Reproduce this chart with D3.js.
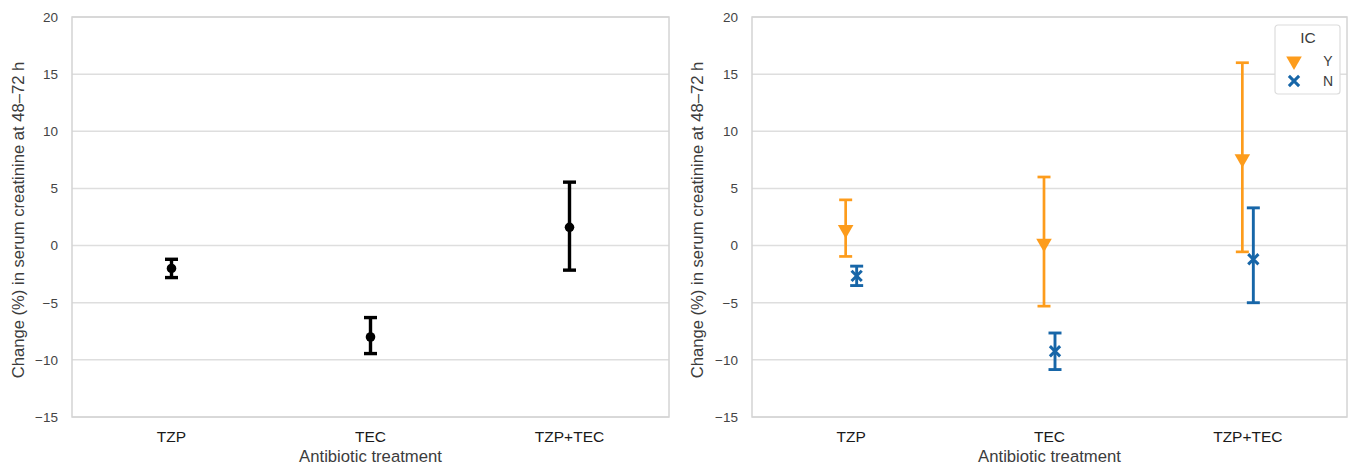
<!DOCTYPE html>
<html>
<head>
<meta charset="utf-8">
<script src="https://cdn.jsdelivr.net/npm/d3@7"></script>
<style>
  body { margin: 0; background: #fff; }
  svg { font-family: "Liberation Sans", Arial, sans-serif; }
</style>
</head>
<body>
<script>
const categories = ["TZP", "TEC", "TZP+TEC"];
const yTicks = [-15, -10, -5, 0, 5, 10, 15, 20];

// left panel: all patients
const allMean = [-2.0, -8.0, 1.6];
const allLow = [-2.8, -9.45, -2.15];
const allHigh = [-1.2, -6.3, 5.55];

// right panel: split by IC
const icGroups = ["Y", "N"];
const icYMean = [1.4, 0.2, 7.6];
const icYLow = [-0.95, -5.3, -0.55];
const icYHigh = [4.0, 6.0, 16.0];
const icNMean = [-2.65, -9.25, -1.2];
const icNLow = [-3.5, -10.85, -5.0];
const icNHigh = [-1.8, -7.65, 3.3];

const width = 1354;
const height = 468;
const orange = "#fd9c1c";
const blue = "#1766a8";
const textColor = "#3c3c3c";

const svg = d3.select("body").append("svg")
    .attr("width", width)
    .attr("height", height);

const plotTop = 17, plotBottom = 417;
const y = d3.scaleLinear().domain([-15, 20]).range([plotBottom, plotTop]);

function drawPanel(left, right, labelX) {
    const g = svg.append("g");
    const x = d3.scaleBand().domain(categories).range([left, right]);

    // grid
    g.selectAll(".grid")
        .data(yTicks)
        .enter()
        .append("line")
        .attr("x1", left)
        .attr("x2", right)
        .attr("y1", d => y(d))
        .attr("y2", d => y(d))
        .style("stroke", "#dedede")
        .style("stroke-width", 1.5);

    g.append("rect")
        .attr("x", left)
        .attr("y", plotTop)
        .attr("width", right - left)
        .attr("height", plotBottom - plotTop)
        .style("fill", "none")
        .style("stroke", "#d4d4d4")
        .style("stroke-width", 1.5);

    // y axis labels
    const yAxis = d3.axisLeft(y).tickValues(yTicks).tickSize(0).tickPadding(14)
        .tickFormat(d => d < 0 ? "\u2212" + Math.abs(d) : d);
    g.append("g")
        .attr("transform", `translate(${left},0)`)
        .call(yAxis)
        .call(a => a.select(".domain").remove())
        .selectAll("text")
        .style("font-size", "13.5px")
        .style("fill", "#444")
        .style("font-family", "Liberation Sans, Arial, sans-serif");

    // x axis labels
    const xAxis = d3.axisBottom(x).tickSize(0).tickPadding(14);
    g.append("g")
        .attr("transform", `translate(0,${plotBottom})`)
        .call(xAxis)
        .call(a => a.select(".domain").remove())
        .selectAll("text")
        .style("font-size", "15.5px")
        .style("fill", "#1a1a1a")
        .style("font-family", "Liberation Sans, Arial, sans-serif");

    g.append("text")
        .attr("x", (left + right) / 2)
        .attr("y", 462)
        .attr("text-anchor", "middle")
        .style("font-size", "16.7px")
        .style("fill", textColor)
        .text("Antibiotic treatment");

    g.append("text")
        .attr("transform", `translate(${labelX},220) rotate(-90)`)
        .attr("text-anchor", "middle")
        .style("font-size", "16.6px")
        .style("fill", textColor)
        .text("Change (%) in serum creatinine at 48\u201372 h");

    return { g, x };
}

function errorBars(g, rows, color, lw, capW) {
    const bars = g.selectAll(null).data(rows).enter().append("g");
    bars.append("line")
        .attr("x1", d => d.cx).attr("x2", d => d.cx)
        .attr("y1", d => y(d.low)).attr("y2", d => y(d.high))
        .style("stroke", color).style("stroke-width", lw);
    bars.append("line")
        .attr("x1", d => d.cx - capW / 2).attr("x2", d => d.cx + capW / 2)
        .attr("y1", d => y(d.low)).attr("y2", d => y(d.low))
        .style("stroke", color).style("stroke-width", lw);
    bars.append("line")
        .attr("x1", d => d.cx - capW / 2).attr("x2", d => d.cx + capW / 2)
        .attr("y1", d => y(d.high)).attr("y2", d => y(d.high))
        .style("stroke", color).style("stroke-width", lw);
    return bars;
}

// left panel
const p1 = drawPanel(72, 669, 24);
const rowsAll = categories.map((c, i) => ({
    cx: p1.x(c) + p1.x.bandwidth() / 2, mean: allMean[i], low: allLow[i], high: allHigh[i]
}));
errorBars(p1.g, rowsAll, "#000", 3.4, 13);
p1.g.selectAll(null).data(rowsAll).enter().append("circle")
    .attr("cx", d => d.cx).attr("cy", d => y(d.mean)).attr("r", 4.8)
    .style("fill", "#000");

// right panel
const p2 = drawPanel(752, 1347, 703);
const dodge = d3.scalePoint().domain(icGroups).range([-5.5, 5.5]);
const rowsY = categories.map((c, i) => ({
    cx: p2.x(c) + p2.x.bandwidth() / 2 + dodge("Y"), mean: icYMean[i], low: icYLow[i], high: icYHigh[i]
}));
const rowsN = categories.map((c, i) => ({
    cx: p2.x(c) + p2.x.bandwidth() / 2 + dodge("N"), mean: icNMean[i], low: icNLow[i], high: icNHigh[i]
}));

const tri = d3.symbol(d3.symbolTriangle, 105);
const cross = d3.symbol(d3.symbolX, 70);

errorBars(p2.g, rowsY, orange, 2.7, 13);
p2.g.selectAll(null).data(rowsY).enter().append("path")
    .attr("d", tri)
    .attr("transform", d => `translate(${d.cx},${y(d.mean)}) rotate(180)`)
    .style("fill", orange);

errorBars(p2.g, rowsN, blue, 2.9, 13);
p2.g.selectAll(null).data(rowsN).enter().append("path")
    .attr("d", cross)
    .attr("transform", d => `translate(${d.cx},${y(d.mean)})`)
    .style("fill", "none")
    .style("stroke", blue)
    .style("stroke-width", 3);

// legend
const leg = svg.append("g").attr("transform", "translate(1275,25)");
leg.append("rect")
    .attr("width", 65).attr("height", 69).attr("rx", 3)
    .style("fill", "#fff").style("stroke", "#dcdcdc").style("stroke-width", 1.2);
leg.append("text")
    .attr("x", 33).attr("y", 18)
    .attr("text-anchor", "middle")
    .style("font-size", "15.5px").style("fill", textColor)
    .text("IC");
const legColors = { Y: orange, N: blue };
icGroups.forEach((k, i) => {
    const ly = 36 + i * 20;
    if (k === "Y") {
        leg.append("path").attr("d", tri)
            .attr("transform", `translate(19,${ly}) rotate(180)`)
            .style("fill", legColors[k]);
    } else {
        leg.append("path").attr("d", cross)
            .attr("transform", `translate(19,${ly})`)
            .style("fill", "none").style("stroke", legColors[k]).style("stroke-width", 3);
    }
    leg.append("text")
        .attr("x", 53).attr("y", ly + 5)
        .attr("text-anchor", "middle")
        .style("font-size", "14px").style("fill", textColor)
        .text(k);
});
</script>
</body>
</html>
